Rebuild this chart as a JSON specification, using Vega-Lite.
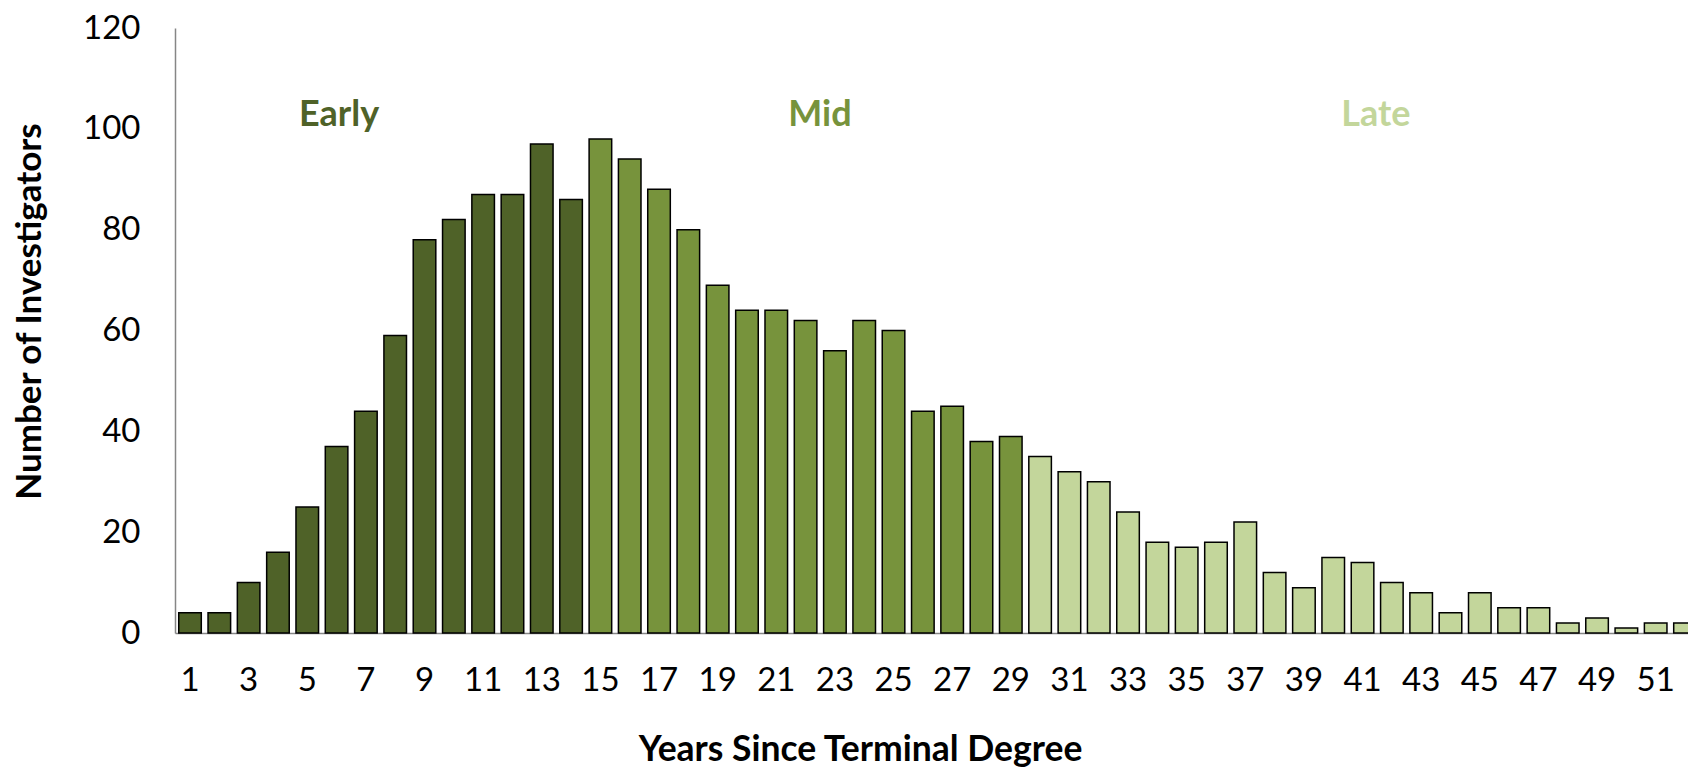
{
  "$schema": "https://vega.github.io/schema/vega-lite/v6.json",
  "width": 1513,
  "height": 605,
  "autosize": {"type": "none"},
  "padding": {"left": 175, "top": 28, "right": 0, "bottom": 138},
  "background": "white",
  "config": {"view": {"stroke": null}, "font": "Lato"},
  "datasets": {
    "bars": [
      {"year": 1, "count": 4, "stage": "Early"},
      {"year": 2, "count": 4, "stage": "Early"},
      {"year": 3, "count": 10, "stage": "Early"},
      {"year": 4, "count": 16, "stage": "Early"},
      {"year": 5, "count": 25, "stage": "Early"},
      {"year": 6, "count": 37, "stage": "Early"},
      {"year": 7, "count": 44, "stage": "Early"},
      {"year": 8, "count": 59, "stage": "Early"},
      {"year": 9, "count": 78, "stage": "Early"},
      {"year": 10, "count": 82, "stage": "Early"},
      {"year": 11, "count": 87, "stage": "Early"},
      {"year": 12, "count": 87, "stage": "Early"},
      {"year": 13, "count": 97, "stage": "Early"},
      {"year": 14, "count": 86, "stage": "Early"},
      {"year": 15, "count": 98, "stage": "Mid"},
      {"year": 16, "count": 94, "stage": "Mid"},
      {"year": 17, "count": 88, "stage": "Mid"},
      {"year": 18, "count": 80, "stage": "Mid"},
      {"year": 19, "count": 69, "stage": "Mid"},
      {"year": 20, "count": 64, "stage": "Mid"},
      {"year": 21, "count": 64, "stage": "Mid"},
      {"year": 22, "count": 62, "stage": "Mid"},
      {"year": 23, "count": 56, "stage": "Mid"},
      {"year": 24, "count": 62, "stage": "Mid"},
      {"year": 25, "count": 60, "stage": "Mid"},
      {"year": 26, "count": 44, "stage": "Mid"},
      {"year": 27, "count": 45, "stage": "Mid"},
      {"year": 28, "count": 38, "stage": "Mid"},
      {"year": 29, "count": 39, "stage": "Mid"},
      {"year": 30, "count": 35, "stage": "Late"},
      {"year": 31, "count": 32, "stage": "Late"},
      {"year": 32, "count": 30, "stage": "Late"},
      {"year": 33, "count": 24, "stage": "Late"},
      {"year": 34, "count": 18, "stage": "Late"},
      {"year": 35, "count": 17, "stage": "Late"},
      {"year": 36, "count": 18, "stage": "Late"},
      {"year": 37, "count": 22, "stage": "Late"},
      {"year": 38, "count": 12, "stage": "Late"},
      {"year": 39, "count": 9, "stage": "Late"},
      {"year": 40, "count": 15, "stage": "Late"},
      {"year": 41, "count": 14, "stage": "Late"},
      {"year": 42, "count": 10, "stage": "Late"},
      {"year": 43, "count": 8, "stage": "Late"},
      {"year": 44, "count": 4, "stage": "Late"},
      {"year": 45, "count": 8, "stage": "Late"},
      {"year": 46, "count": 5, "stage": "Late"},
      {"year": 47, "count": 5, "stage": "Late"},
      {"year": 48, "count": 2, "stage": "Late"},
      {"year": 49, "count": 3, "stage": "Late"},
      {"year": 50, "count": 1, "stage": "Late"},
      {"year": 51, "count": 2, "stage": "Late"},
      {"year": 52, "count": 2, "stage": "Late"}
    ],
    "labels": [
      {"year": 6, "stage": "Early"},
      {"year": 23, "stage": "Mid"},
      {"year": 42, "stage": "Late"}
    ]
  },
  "layer": [
    {
      "data": {"name": "bars"},
      "mark": {"type": "bar", "stroke": "black", "strokeWidth": 1.5},
      "encoding": {
        "x": {
          "field": "year",
          "type": "ordinal",
          "sort": "ascending",
          "scale": {"paddingInner": 0.23, "paddingOuter": 0.127, "range": [0, 1525]},
          "axis": {
            "values": [1,3,5,7,9,11,13,15,17,19,21,23,25,27,29,31,33,35,37,39,41,43,45,47,49,51],
            "labelAngle": 0,
            "labelFont": "Lato",
            "labelFontSize": 33,
            "labelColor": "black",
            "labelBaseline": "middle",
            "labelPadding": 47,
            "ticks": false,
            "tickSize": 0,
            "domainColor": "#868686",
            "domainWidth": 1.5,
            "title": "Years Since Terminal Degree",
            "titleFont": "Lato",
            "titleFontSize": 35.5,
            "titleFontWeight": "bold",
            "titleColor": "black",
            "titleX": 685,
            "titleY": 127,
            "titleAlign": "center",
            "titleBaseline": "alphabetic"
          }
        },
        "y": {
          "field": "count",
          "type": "quantitative",
          "scale": {"domain": [0, 120], "nice": false},
          "axis": {
            "values": [0, 20, 40, 60, 80, 100, 120],
            "grid": false,
            "ticks": false,
            "tickSize": 0,
            "labelFont": "Lato",
            "labelFontSize": 33,
            "labelColor": "black",
            "labelPadding": 35,
            "domainColor": "#868686",
            "domainWidth": 1.5,
            "title": "Number of Investigators",
            "titleFont": "Lato",
            "titleFontSize": 35,
            "titleFontWeight": "bold",
            "titleColor": "black",
            "titleAngle": -90,
            "titleX": -135,
            "titleY": 283,
            "titleAlign": "center",
            "titleBaseline": "alphabetic"
          }
        },
        "color": {
          "field": "stage",
          "type": "nominal",
          "scale": {"domain": ["Early", "Mid", "Late"], "range": ["#4F6228", "#77933C", "#C3D69B"]},
          "legend": null
        }
      }
    },
    {
      "data": {"name": "labels"},
      "transform": [{"filter": "datum.stage === 'Early'"}],
      "mark": {"type": "text", "font": "Lato", "fontSize": 36, "fontWeight": "bold", "baseline": "alphabetic", "align": "center", "dx": 2.5},
      "encoding": {
        "x": {"field": "year", "type": "ordinal", "sort": "ascending"},
        "y": {"datum": 100.5},
        "text": {"field": "stage"},
        "color": {"field": "stage", "type": "nominal"}
      }
    },
    {
      "data": {"name": "labels"},
      "transform": [{"filter": "datum.stage === 'Mid'"}],
      "mark": {"type": "text", "font": "Lato", "fontSize": 36, "fontWeight": "bold", "baseline": "alphabetic", "align": "center", "dx": -15},
      "encoding": {
        "x": {"field": "year", "type": "ordinal", "sort": "ascending"},
        "y": {"datum": 100.5},
        "text": {"field": "stage"},
        "color": {"field": "stage", "type": "nominal"}
      }
    },
    {
      "data": {"name": "labels"},
      "transform": [{"filter": "datum.stage === 'Late'"}],
      "mark": {"type": "text", "font": "Lato", "fontSize": 36, "fontWeight": "bold", "baseline": "alphabetic", "align": "center", "dx": -16},
      "encoding": {
        "x": {"field": "year", "type": "ordinal", "sort": "ascending"},
        "y": {"datum": 100.5},
        "text": {"field": "stage"},
        "color": {"field": "stage", "type": "nominal"}
      }
    }
  ]
}
